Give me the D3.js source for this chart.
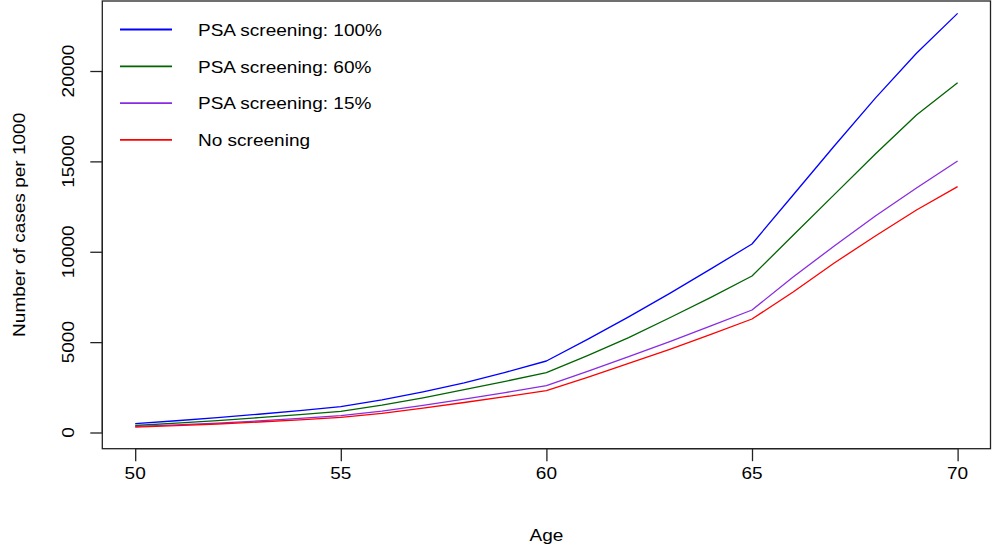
<!DOCTYPE html>
<html>
<head>
<meta charset="utf-8">
<script src="https://cdn.jsdelivr.net/npm/d3@7"></script>
<style>
  body { margin: 0; background: #fff; }
  svg { display: block; font-family: "Liberation Sans", Arial, sans-serif; }
</style>
</head>
<body>
<svg id="chart"></svg>
<script>
const ages = d3.range(50, 71);

const screen100 = [487, 650, 820, 1010, 1210, 1428, 1800, 2250, 2750, 3330, 3956,
  5150, 6400, 7700, 9050, 10429, 13140, 15850, 18500, 20980, 23190];
const screen60 = [387, 520, 660, 820, 990, 1173, 1520, 1920, 2370, 2830, 3309,
  4250, 5250, 6350, 7480, 8659, 10910, 13160, 15410, 17570, 19355];
const screen15 = [340, 420, 520, 640, 780, 930, 1180, 1500, 1850, 2210, 2590,
  3380, 4200, 5030, 5900, 6778, 8600, 10320, 11980, 13530, 15020];
const noScreen = [300, 380, 470, 580, 700, 841, 1060, 1350, 1660, 1980, 2313,
  3050, 3820, 4600, 5430, 6280, 7770, 9380, 10870, 12310, 13600];

const seriesNames = ["PSA screening: 100%", "PSA screening: 60%", "PSA screening: 15%", "No screening"];
const seriesColors = ["#0000ff", "#006400", "#8a2be2", "#ff0000"];
const xTicks = [50, 55, 60, 65, 70];
const yTicks = [0, 5000, 10000, 15000, 20000];

const width = 993, height = 550;
const box = { left: 102.3, right: 990.5, top: 1, bottom: 448.7 };
const fontSize = 17;
const stretch = 1.12; // reference glyphs are a bit wider than Liberation Sans

const svg = d3.select("#chart")
  .attr("width", width)
  .attr("height", height);

// R-style axis ranges (4% padding around the data)
const x = d3.scaleLinear().domain([49.2, 70.8]).range([box.left, box.right]);
const y = d3.scaleLinear().domain([-896, 23873]).range([box.bottom, box.top]);

const series = [screen100, screen60, screen15, noScreen].map((vals, i) => ({
  name: seriesNames[i],
  color: seriesColors[i],
  values: vals.map((v, j) => ({ age: ages[j], v }))
}));

// text helper: place at (tx,ty), optional rotation, widened horizontally
function label(g, tx, ty, str, anchor, rot) {
  return g.append("text")
    .attr("transform", `translate(${tx},${ty})${rot ? ` rotate(${rot})` : ""} scale(${stretch},1)`)
    .attr("text-anchor", anchor)
    .attr("font-size", fontSize)
    .attr("fill", "#000")
    .text(str);
}

const line = d3.line()
  .x(d => x(d.age))
  .y(d => y(d.v));

// lines
svg.append("g")
  .selectAll("path")
  .data(series)
  .join("path")
  .attr("d", d => line(d.values))
  .attr("fill", "none")
  .attr("stroke", d => d.color)
  .attr("stroke-width", 1.3)
  .attr("stroke-linejoin", "round");

// plot frame
svg.append("rect")
  .attr("x", box.left)
  .attr("y", box.top)
  .attr("width", box.right - box.left)
  .attr("height", box.bottom - box.top)
  .attr("fill", "none")
  .attr("stroke", "#222")
  .attr("stroke-width", 1.3);

// x axis
const xAxis = svg.append("g")
  .attr("transform", `translate(0,${box.bottom})`)
  .call(d3.axisBottom(x).tickValues(xTicks).tickSize(12.5).tickFormat(""));
xAxis.select(".domain")
  .attr("d", `M${x(50)},0H${x(70)}`)
  .attr("stroke", "#222").attr("stroke-width", 1.3);
xAxis.selectAll(".tick line").attr("stroke", "#222").attr("stroke-width", 1.3);
xTicks.forEach(t => label(svg, x(t), 479, t, "middle"));

// y axis
const yAxis = svg.append("g")
  .attr("transform", `translate(${box.left},0)`)
  .call(d3.axisLeft(y).tickValues(yTicks).tickSize(12).tickFormat(""));
yAxis.select(".domain")
  .attr("d", `M0,${y(0)}V${y(20000)}`)
  .attr("stroke", "#222").attr("stroke-width", 1.3);
yAxis.selectAll(".tick line").attr("stroke", "#222").attr("stroke-width", 1.3);
yTicks.forEach(t => label(svg, 74, y(t), t, "middle", -90));

// axis titles
label(svg, x(60), 541, "Age", "middle");
label(svg, 25, (box.top + box.bottom) / 2, "Number of cases per 1000", "middle", -90);

// legend
const legend = svg.append("g")
  .selectAll("g")
  .data(series)
  .join("g")
  .attr("transform", (d, i) => `translate(0,${29.5 + i * 36.8})`);

legend.append("line")
  .attr("x1", 120).attr("x2", 172)
  .attr("stroke", d => d.color)
  .attr("stroke-width", 1.8);

legend.each(function(d) {
  label(d3.select(this), 198, 6.2, d.name, "start");
});
</script>
</body>
</html>
